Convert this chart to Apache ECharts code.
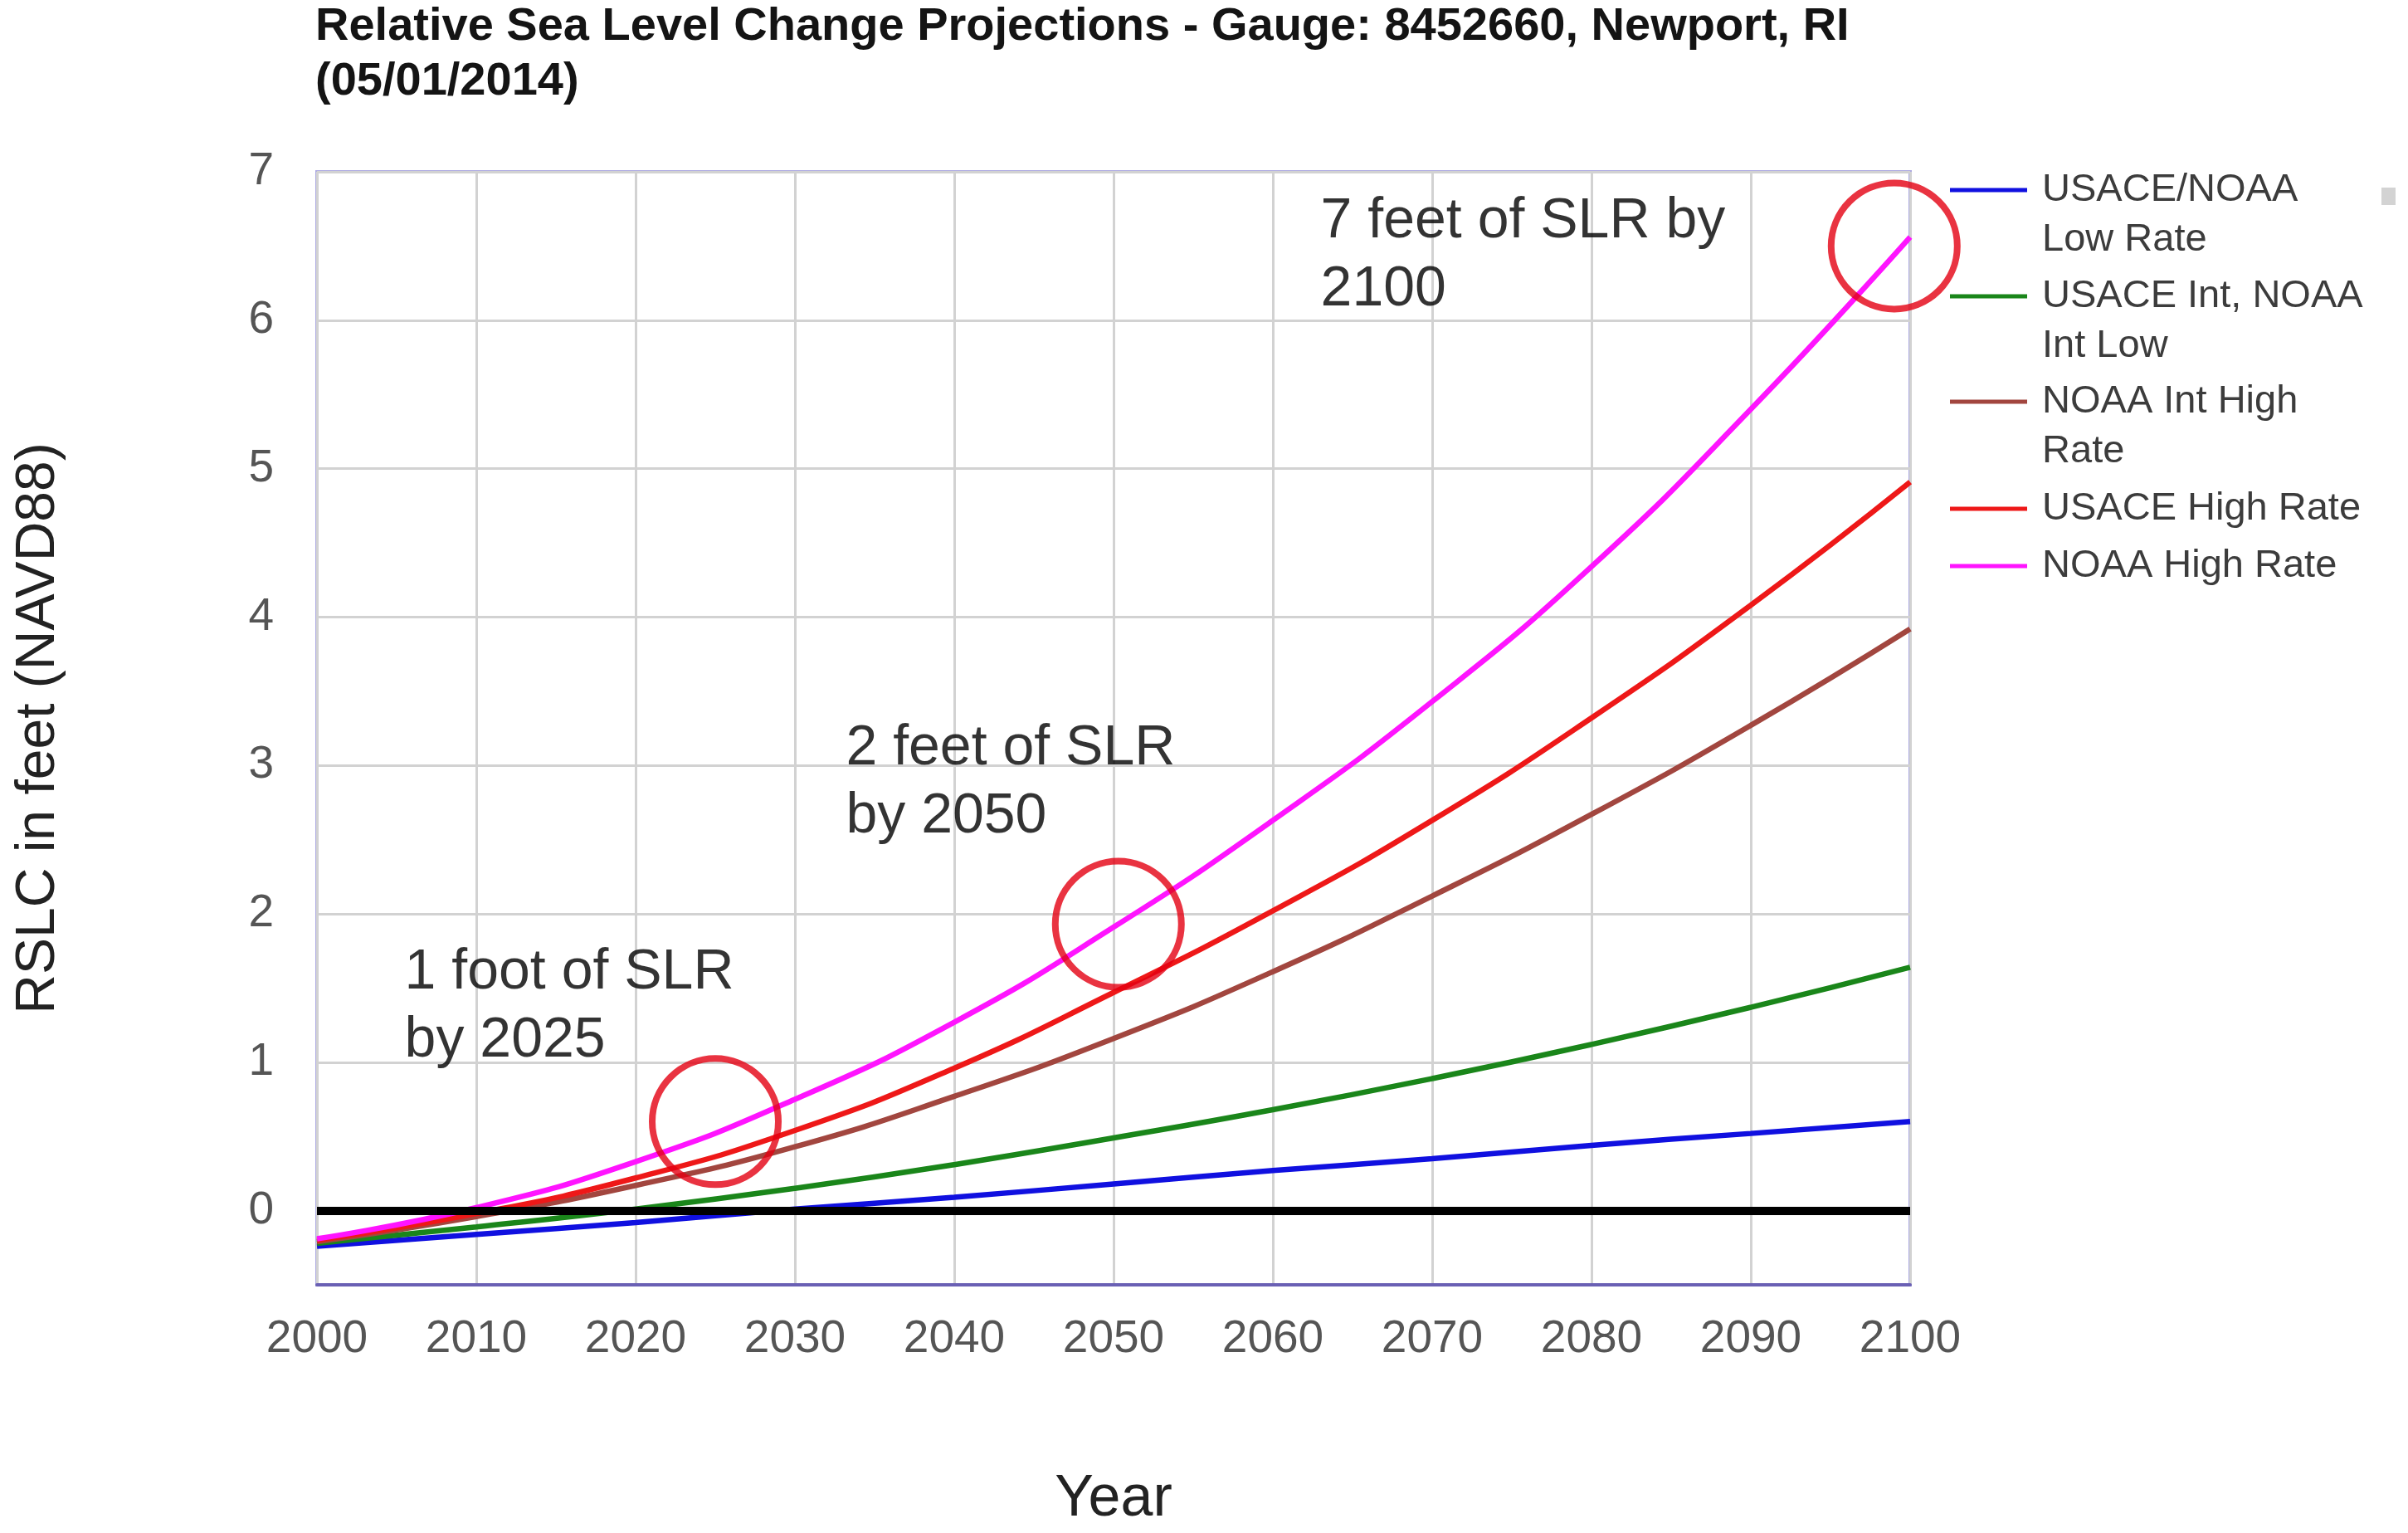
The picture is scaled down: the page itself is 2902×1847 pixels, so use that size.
<!DOCTYPE html>
<html>
<head>
<meta charset="utf-8">
<title>Relative Sea Level Change Projections</title>
<script src="https://cdn.jsdelivr.net/npm/echarts@6/dist/echarts.min.js"></script>
<style>
html, body { margin: 0; padding: 0; background: #fff; }
#chart1 { width: 2902px; height: 1847px; }
</style>
</head>
<body>
<div id="chart1"></div>
<script>
// values, feet relative to NAVD88
var years = [2000, 2010, 2020, 2030, 2040, 2050, 2060, 2070, 2080, 2090, 2100];
var usaceNoaaLow = [-0.24, -0.16, -0.08, 0.01, 0.09, 0.18, 0.27, 0.35, 0.44, 0.52, 0.60];
var usaceIntNoaaIntLow = [-0.22, -0.11, 0.01, 0.15, 0.31, 0.49, 0.68, 0.89, 1.12, 1.37, 1.64];
var noaaIntHigh = [-0.21, -0.04, 0.17, 0.43, 0.77, 1.16, 1.61, 2.12, 2.67, 3.27, 3.92];
var usaceHigh = [-0.20, -0.02, 0.22, 0.54, 0.96, 1.47, 2.02, 2.63, 3.32, 4.08, 4.91];
var noaaHigh = [-0.19, 0.02, 0.33, 0.75, 1.27, 1.91, 2.63, 3.43, 4.34, 5.40, 6.56];

var seriesNames = ['USACE/NOAA Low Rate', 'USACE Int, NOAA Int Low', 'NOAA Int High Rate', 'USACE High Rate', 'NOAA High Rate'];
var legendLines = [['USACE/NOAA', 'Low Rate'], ['USACE Int, NOAA', 'Int Low'], ['NOAA Int High', 'Rate'], ['USACE High Rate'], ['NOAA High Rate']];
var seriesColors = ['#1010e0', '#1a861a', '#a2463f', '#ee1818', '#ff14ff'];
var seriesValues = [usaceNoaaLow, usaceIntNoaaIntLow, noaaIntHigh, usaceHigh, noaaHigh];

// red circles drawn on the figure: [year, feet]
var circleYears = [2025, 2050.3, 2099.0];
var circleFeet = [0.60, 1.93, 6.5];

// callout texts, anchored at their top-left corner: [year, feet]
var noteTexts = ['1 foot of SLR\nby 2025', '2 feet of SLR\nby 2050', '7 feet of SLR by\n2100'];
var noteYears = [2005.5, 2033.2, 2063.0];
var noteFeet = [1.83, 3.34, 6.89];

var font = '"Liberation Sans", Arial, sans-serif';
// legend box tops (px), one legend per entry so the marker sits on the first text row
var legendTops = [139, 267, 394, 583, 652];

var series = seriesValues.map(function (vals, i) {
    return {
        name: seriesNames[i],
        type: 'line',
        smooth: true,
        showSymbol: false,
        symbol: 'none',
        z: 3,
        lineStyle: { width: 6.5, color: seriesColors[i] },
        itemStyle: { color: seriesColors[i] },
        data: years.map(function (y, j) { return [y, vals[j]]; })
    };
});

// thick black zero line
series.push({
    name: 'zero',
    type: 'line',
    data: [],
    z: 2,
    markLine: {
        silent: true,
        symbol: 'none',
        label: { show: false },
        lineStyle: { color: '#000', width: 10, type: 'solid' },
        data: [{ yAxis: 0 }]
    }
});

series.push({
    name: 'circles',
    type: 'scatter',
    z: 6,
    clip: false,
    symbol: 'circle',
    symbolSize: 152,
    itemStyle: { color: 'rgba(0,0,0,0)', borderColor: '#e30012', borderWidth: 8 },
    data: circleYears.map(function (y, i) { return [y, circleFeet[i]]; })
});

series.push({
    name: 'notes',
    type: 'scatter',
    z: 5,
    symbolSize: 0,
    label: {
        show: true,
        position: [0, 0],
        align: 'left',
        verticalAlign: 'top',
        fontFamily: font,
        fontSize: 68,
        lineHeight: 82,
        color: '#000',
        formatter: function (p) { return noteTexts[p.dataIndex]; }
    },
    data: noteYears.map(function (y, i) { return [y, noteFeet[i]]; })
});

var legends = seriesNames.map(function (n, i) {
    var lines = legendLines[i].map(function (s) { return ' ' + s; });
    // a blank first row lifts the wrapped text so the marker lines up with row one
    var text = lines.length > 1 ? ' \n' + lines.join('\n') : lines[0];
    return {
        orient: 'vertical',
        left: 2350,
        top: legendTops[i],
        padding: 0,
        itemWidth: 93,
        itemHeight: 5,
        icon: 'rect',
        selectedMode: false,
        textStyle: { fontFamily: font, fontSize: 47, lineHeight: 60, color: '#3c3c3c' },
        formatter: function () { return text; },
        data: [n]
    };
});

option = {
    backgroundColor: '#fff',
    animation: false,
    title: {
        text: 'Relative Sea Level Change Projections - Gauge: 8452660, Newport, RI\n(05/01/2014)',
        left: 380,
        top: 0,
        padding: 0,
        textStyle: {
            fontFamily: font,
            fontWeight: 'bold',
            fontSize: 56,
            lineHeight: 66,
            color: '#141414'
        }
    },
    legend: legends,
    grid: {
        left: 382,
        right: 600,
        top: 207,
        bottom: 295,
        show: true,
        borderColor: '#aeabe2',
        borderWidth: 4
    },
    xAxis: {
        type: 'value',
        min: 2000,
        max: 2100,
        interval: 10,
        name: 'Year',
        nameLocation: 'middle',
        nameGap: 224,
        nameTextStyle: { fontFamily: font, fontSize: 70, color: '#222' },
        axisLine: { show: true, onZero: false, lineStyle: { color: '#6a60b4', width: 4 } },
        axisTick: { show: false },
        axisLabel: {
            margin: 38,
            fontFamily: font,
            fontSize: 55,
            color: '#555',
            formatter: function (v) { return String(v); }
        },
        splitLine: { show: true, lineStyle: { color: '#d2d2d2', width: 3 } }
    },
    yAxis: {
        type: 'value',
        min: -0.5,
        max: 7,
        interval: 0.5,
        name: 'RSLC in feet (NAVD88)',
        nameLocation: 'middle',
        nameGap: 302,
        nameTextStyle: { fontFamily: font, fontSize: 66, color: '#222' },
        axisLine: { show: false },
        axisTick: { show: false },
        axisLabel: {
            margin: 52,
            fontFamily: font,
            fontSize: 55,
            color: '#555',
            formatter: function (v) { return Math.abs(v - Math.round(v)) < 1e-6 ? String(Math.round(v)) : ''; }
        },
        splitLine: { show: true, lineStyle: { color: ['rgba(0,0,0,0)', '#d2d2d2'], width: 3 } }
    },
    graphic: [{
        type: 'rect',
        right: 15,
        top: 226,
        shape: { width: 17, height: 21 },
        style: { fill: '#d3d3d3' }
    }],
    series: series
};

var myChart = echarts.init(document.getElementById('chart1'));
myChart.setOption(option);
</script>
</body>
</html>
